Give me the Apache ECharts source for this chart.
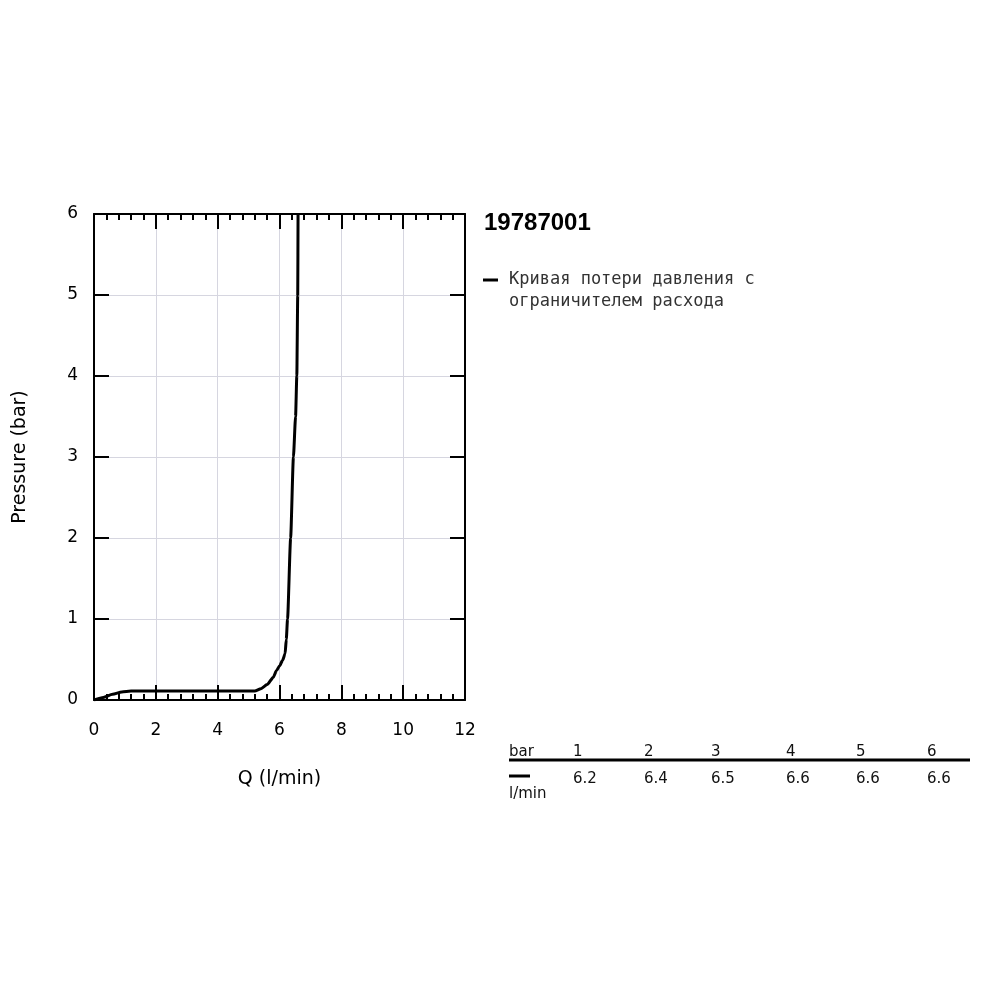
<!DOCTYPE html>
<html><head><meta charset="utf-8">
<script src="https://cdn.jsdelivr.net/npm/echarts@6/dist/echarts.min.js"></script>
<style>html,body{margin:0;padding:0;background:#fff}#c{width:1000px;height:1000px}</style>
</head><body><div id="c"></div>
<script>
// ---- data ----
const flowQ =     [0, 0.3, 0.6, 0.9, 1.2, 2, 3, 4, 5, 5.2, 5.4, 5.6, 5.8, 5.9, 6.0, 6.1, 6.18, 6.22, 6.26, 6.36, 6.45, 6.52, 6.56, 6.59, 6.6];
const pressureP = [0, 0.03, 0.07, 0.1, 0.11, 0.11, 0.11, 0.11, 0.11, 0.11, 0.14, 0.19, 0.28, 0.36, 0.42, 0.49, 0.57, 0.75, 1, 2, 3, 3.5, 4, 5, 6];
const xTicks = [0, 2, 4, 6, 8, 10, 12];
const yTicks = [0, 1, 2, 3, 4, 5, 6];
const titleText = '19787001';
const seriesName = ['Кривая потери давления с', 'ограничителем расхода'];
const tableBar = [1, 2, 3, 4, 5, 6];
const tableFlow = ['6.2', '6.4', '6.5', '6.6', '6.6', '6.6'];
const tableHeadTop = 'bar';
const tableHeadBottom = 'l/min';

// ---- layout ----
const colX = [573, 644, 711, 786, 856, 927];
const font = '"DejaVu Sans", Verdana, sans-serif';
const boldFont = '"Liberation Sans", Arial, sans-serif';

const chart = echarts.init(document.getElementById('c'), null, {renderer: 'canvas'});
const pts = flowQ.map((q, i) => [q, pressureP[i]]);

const xCommon = {
  type: 'value', min: xTicks[0], max: xTicks[xTicks.length - 1], interval: 2,
  axisLine: {show: true, onZero: false, lineStyle: {color: '#000', width: 2}},
  axisTick: {show: true, inside: true, length: 15, lineStyle: {color: '#000', width: 2}},
  minorTick: {show: true, splitNumber: 5, length: 6, lineStyle: {color: '#000', width: 2}},
};
const yCommon = {
  type: 'value', min: yTicks[0], max: yTicks[yTicks.length - 1], interval: 1,
  axisLine: {show: true, onZero: false, lineStyle: {color: '#000', width: 2}},
  axisTick: {show: true, inside: true, length: 15, lineStyle: {color: '#000', width: 2}},
};

const graphics = [
  {type: 'text', left: 484, top: 211, style: {text: titleText, font: 'bold 24px ' + boldFont, fill: '#000'}},
  {type: 'line', shape: {x1: 483, y1: 280, x2: 498, y2: 280}, style: {stroke: '#000', lineWidth: 3}},
  {type: 'text', x: 509, y: 280, style: {text: seriesName[0], font: '17px "DejaVu Sans Mono", monospace', fill: '#333', textVerticalAlign: 'middle'}},
  {type: 'text', x: 509, y: 302, style: {text: seriesName[1], font: '17px "DejaVu Sans Mono", monospace', fill: '#333', textVerticalAlign: 'middle'}},
  {type: 'text', x: 509, y: 752, style: {text: tableHeadTop, font: '15px ' + font, fill: '#111', textVerticalAlign: 'middle'}},
  {type: 'line', shape: {x1: 509, y1: 760, x2: 970, y2: 760}, style: {stroke: '#000', lineWidth: 3}},
  {type: 'line', shape: {x1: 509, y1: 776, x2: 530, y2: 776}, style: {stroke: '#000', lineWidth: 3}},
  {type: 'text', x: 509, y: 794, style: {text: tableHeadBottom, font: '15px ' + font, fill: '#111', textVerticalAlign: 'middle'}},
];
tableBar.forEach((b, i) => {
  graphics.push({type: 'text', x: colX[i], y: 752, style: {text: String(b), font: '15px ' + font, fill: '#111', textVerticalAlign: 'middle'}});
  graphics.push({type: 'text', x: colX[i], y: 779, style: {text: tableFlow[i], font: '15px ' + font, fill: '#111', textVerticalAlign: 'middle'}});
});

chart.setOption({
  animation: false,
  grid: {left: 94, right: 535, top: 214, bottom: 300, containLabel: false},
  xAxis: [
    Object.assign({}, xCommon, {
      position: 'bottom',
      name: 'Q (l/min)', nameLocation: 'middle', nameGap: 70,
      nameTextStyle: {fontFamily: font, fontSize: 19, color: '#000'},
      axisLabel: {show: true, margin: 22, fontFamily: font, fontSize: 17, color: '#000'},
      splitLine: {show: true, lineStyle: {color: '#d6d6e0', width: 1}},
    }),
    Object.assign({}, xCommon, {
      position: 'top', axisLabel: {show: false}, splitLine: {show: false},
    }),
  ],
  yAxis: [
    Object.assign({}, yCommon, {
      position: 'left',
      name: 'Pressure (bar)', nameLocation: 'middle', nameGap: 64, nameRotate: 90,
      nameTextStyle: {fontFamily: font, fontSize: 19, color: '#000'},
      axisLabel: {show: true, margin: 16, fontFamily: font, fontSize: 17, color: '#000'},
      splitLine: {show: true, lineStyle: {color: '#d6d6e0', width: 1}},
    }),
    Object.assign({}, yCommon, {
      position: 'right', axisLabel: {show: false}, splitLine: {show: false},
    }),
  ],
  series: [{
    type: 'line', name: seriesName.join(' '), data: pts, xAxisIndex: 0, yAxisIndex: 0,
    showSymbol: false, smooth: 0.2, smoothMonotone: 'x',
    lineStyle: {color: '#000', width: 3}, z: 5,
  }],
  graphic: graphics,
});
</script></body></html>
